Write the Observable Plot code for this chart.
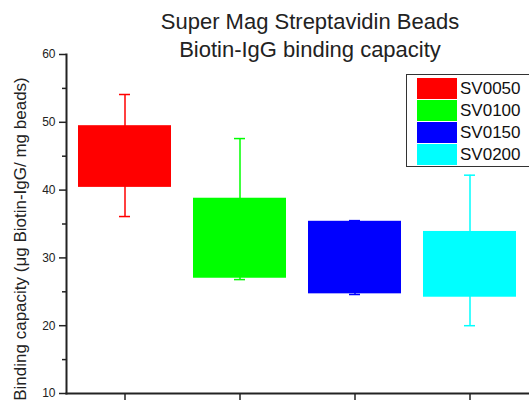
<!DOCTYPE html>
<html><head><meta charset="utf-8">
<script src="https://cdn.jsdelivr.net/npm/d3@7"></script>
<script src="https://cdn.jsdelivr.net/npm/@observablehq/plot@0.6"></script>
<style>
body{margin:0;background:#fff;font-family:"Liberation Sans",Arial,sans-serif;}
#wrap{position:relative;width:529px;height:401px;overflow:hidden;}
#title{position:absolute;left:110px;width:400px;top:8px;text-align:center;font-size:22px;line-height:28px;color:#222;}
#legend{position:absolute;left:406px;top:74px;width:130px;height:91px;border:1.5px solid #333;background:#fff;}
.row{position:absolute;left:10px;height:21px;display:flex;align-items:center;}
.sw{width:40px;height:21px;}
.lb{margin-left:3px;font-size:17px;color:#111;}
</style></head><body>
<div id="wrap"><div id="chart"></div>
<div id="title">Super Mag Streptavidin Beads<br>Biotin-IgG binding capacity</div>
<div id="legend"></div></div>
<script>
const categories = ["SV0050","SV0100","SV0150","SV0200"];
const colors = ["#ff0000","#00ff00","#0000ff","#00ffff"];
const boxLow = [40.4, 27.0, 24.7, 24.2];
const boxHigh = [49.5, 38.8, 35.4, 33.9];
const whiskerLow = [36.1, 26.8, 24.6, 20.0];
const whiskerHigh = [54.1, 47.6, 35.5, 42.2];
const yTicks = [10,20,30,40,50,60];
const yMinorTicks = [15,25,35,45,55];
const yLabel = "Binding capacity (μg Biotin-IgG/ mg beads)";

const data = categories.map((c,i)=>({cat:c, color:colors[i], lo:boxLow[i], hi:boxHigh[i], wlo:whiskerLow[i], whi:whiskerHigh[i]}));

const chart = Plot.plot({
  width:529, height:401,
  marginLeft:66, marginRight:1, marginTop:54, marginBottom:8,
  style:{fontFamily:"Liberation Sans, Arial, sans-serif", fontSize:"12px", color:"#222"},
  x:{domain:categories, padding:0, axis:null},
  y:{domain:[10,60], axis:null},
  marks:[
    Plot.ruleX(data,{x:"cat", y1:"wlo", y2:"whi", stroke:"color", strokeWidth:1.5}),
    Plot.barY(data,{x:"cat", y1:"lo", y2:"hi", fill:"color", insetLeft:11, insetRight:11}),
    Plot.tickY(data,{x:"cat", y:"whi", stroke:"color", strokeWidth:1.5, insetLeft:52, insetRight:52}),
    Plot.tickY(data,{x:"cat", y:"wlo", stroke:"color", strokeWidth:1.5, insetLeft:52, insetRight:52}),
    Plot.axisX({ticks:categories, tickSize:7, tickFormat:()=>"", stroke:"#222", strokeWidth:1.5, label:null}),
    Plot.axisY({ticks:yTicks, tickSize:7, tickPadding:4, stroke:"#222", strokeWidth:1.5, label:null}),
    Plot.axisY({ticks:yMinorTicks, tickSize:4, tickFormat:()=>"", stroke:"#222", strokeWidth:1.5, label:null}),
    Plot.frame({anchor:"left", stroke:"#222", strokeWidth:2}),
    Plot.frame({anchor:"bottom", stroke:"#222", strokeWidth:2}),
    Plot.text([yLabel],{text:d=>d, frameAnchor:"left", textAnchor:"middle", rotate:-90, dx:-46, dy:15, fontSize:17, fill:"#222"})
  ]
});
document.getElementById("chart").appendChild(chart);

const leg = document.getElementById("legend");
categories.forEach((c,i)=>{
  const r=document.createElement("div"); r.className="row"; r.style.top=(3+i*22)+"px";
  r.innerHTML=`<div class="sw" style="background:${colors[i]}"></div><span class="lb">${c}</span>`;
  leg.appendChild(r);
});
</script></body></html>
